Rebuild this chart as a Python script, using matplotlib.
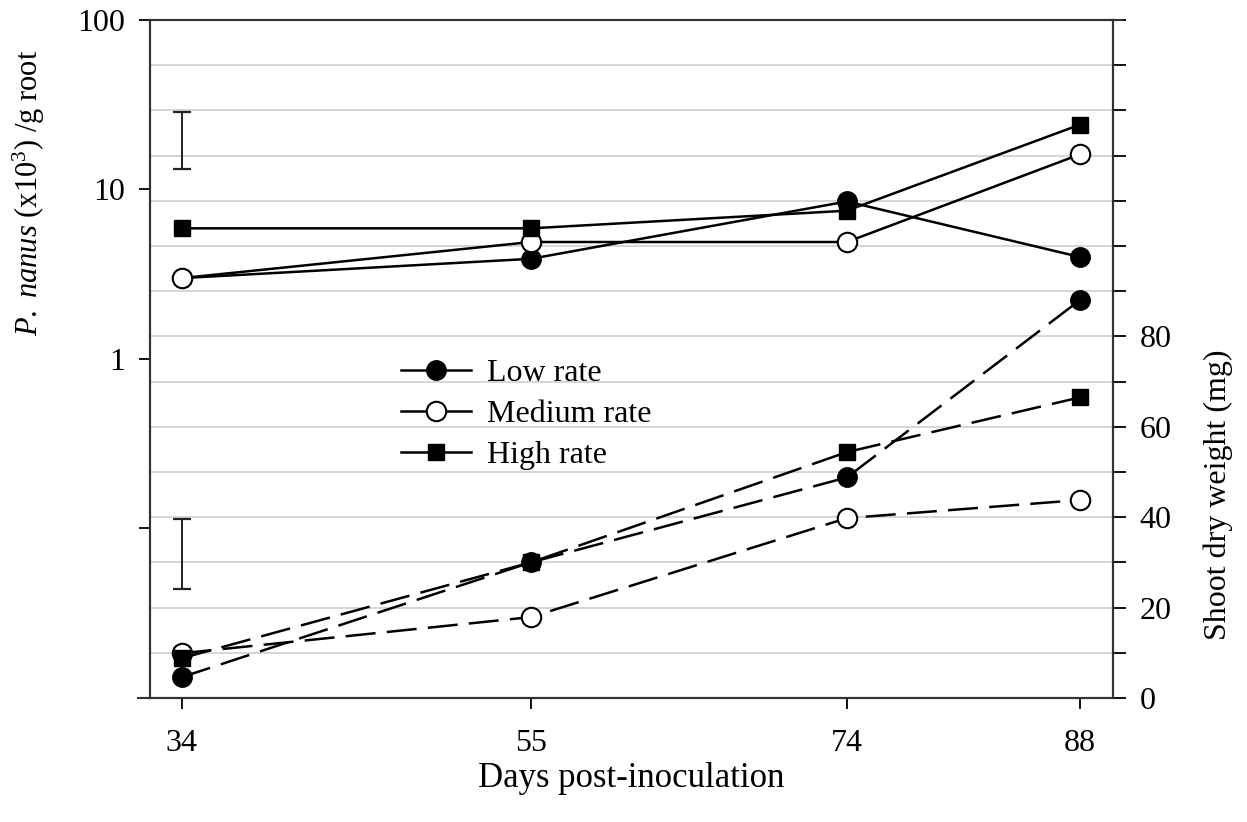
import matplotlib
matplotlib.use("Agg")
import matplotlib.pyplot as plt
from matplotlib.lines import Line2D

plt.rcParams["font.family"] = ["Liberation Serif", "DejaVu Serif"]
plt.rcParams["mathtext.fontset"] = "custom"
plt.rcParams["mathtext.rm"] = "Liberation Serif"
plt.rcParams["mathtext.it"] = "Liberation Serif:italic"

# Days post-inoculation
days = [34, 55, 74, 88]

# Nematode density, P. nanus (x10^3) per g root
nem_low = [3.0, 3.9, 8.5, 4.0]
nem_medium = [3.0, 4.9, 4.9, 16.1]
nem_high = [5.9, 5.9, 7.5, 24.1]

# Shoot dry weight (mg)
shoot_low = [4.6, 30.0, 48.8, 88.0]
shoot_medium = [9.9, 17.9, 39.8, 43.8]
shoot_high = [8.8, 30.0, 54.4, 66.5]

# LSD bars drawn at day 34
lsd_nem = (13.3, 28.8)
lsd_shoot = (24.1, 39.6)

series_labels = ["Low rate", "Medium rate", "High rate"]

fig = plt.figure(figsize=(12.47, 8.22), dpi=100)
ax = fig.add_axes([150 / 1247, 1 - 698 / 822, (1113 - 150) / 1247, (698 - 20) / 822])
ax2 = ax.twinx()

ax.set_yscale("log")
ax.set_ylim(0.01, 100)
ax.set_xlim(32.1, 90)
ax2.set_ylim(0, 150)

# light grid at every 10 mg of the right-hand scale
for v in range(10, 150, 10):
    ax2.axhline(v, color="#cacaca", lw=1.1, zorder=0)

lw = 1.8
styles = [
    dict(marker="o", mfc="black", mec="black", ms=14),
    dict(marker="o", mfc="white", mec="black", ms=14, mew=1.5),
    dict(marker="s", mfc="black", mec="black", ms=12),
]

handles = []
for vals, st, lab in zip([nem_low, nem_medium, nem_high], styles, series_labels):
    h, = ax.plot(days, vals, color="black", lw=lw, label=lab, **st, zorder=3)
    handles.append(h)

for vals, st in zip([shoot_low, shoot_medium, shoot_high], styles):
    ax2.plot(days, vals, color="black", lw=lw, ls=(0, (12, 4.5)), **st, zorder=3)

# LSD bars
g = (lsd_nem[0] * lsd_nem[1]) ** 0.5
ax.errorbar([days[0]], [g], yerr=[[g - lsd_nem[0]], [lsd_nem[1] - g]],
            fmt="none", ecolor="#222222", elinewidth=1.4, capsize=6.5, capthick=1.6)
ax2.errorbar([days[0]], [(lsd_shoot[0] + lsd_shoot[1]) / 2],
             yerr=[(lsd_shoot[1] - lsd_shoot[0]) / 2],
             fmt="none", ecolor="#222222", elinewidth=1.4, capsize=6.5, capthick=1.6)

# ticks
ax.set_xticks(days)
ax.set_xticklabels([str(d) for d in days])
ax.set_yticks([0.1, 1, 10, 100])
ax.set_yticklabels(["", "1", "10", "100"])
ax.yaxis.set_minor_locator(matplotlib.ticker.NullLocator())
ax2.set_yticks(range(0, 151, 10))
ax2.set_yticklabels([str(v) if v <= 80 and v % 20 == 0 else "" for v in range(0, 151, 10)])

for a in (ax, ax2):
    a.tick_params(direction="out", labelsize=23, width=1.3, length=8, colors="black")
    for s in a.spines.values():
        s.set_linewidth(1.5)
        s.set_color("#333333")
ax.tick_params(axis="x", pad=14)
ax.tick_params(axis="y", pad=10)
ax2.tick_params(axis="y", length=9, pad=10)

ax.set_xlabel("Days post-inoculation", fontsize=25, labelpad=3)
ax.set_ylabel(r"$\it{P.\ nanus}$ (x10$^{3}$) /g root", fontsize=22)
ax.yaxis.set_label_coords(-0.107, 0.745)
ax2.set_ylabel("Shoot dry weight (mg)", fontsize=23)
ax2.yaxis.set_label_coords(1.0935, 0.30)

# short spine extensions past the corners
fig.add_artist(Line2D([138 / 1247, 150 / 1247], [1 - 698 / 822] * 2, color="#333333", lw=1.5))
fig.add_artist(Line2D([1113 / 1247, 1122 / 1247], [1 - 20 / 822] * 2, color="#333333", lw=1.5))

ax.legend(handles=handles, loc="upper left", bbox_to_anchor=(388 / 1247, 1 - 346 / 822),
          bbox_transform=fig.transFigure, frameon=False, fontsize=23,
          handlelength=2.2, handletextpad=0.5, labelspacing=0.36, borderaxespad=0)

ax.set_zorder(ax2.get_zorder() + 1)
ax.patch.set_visible(False)

fig.savefig("out.png", dpi=100)
